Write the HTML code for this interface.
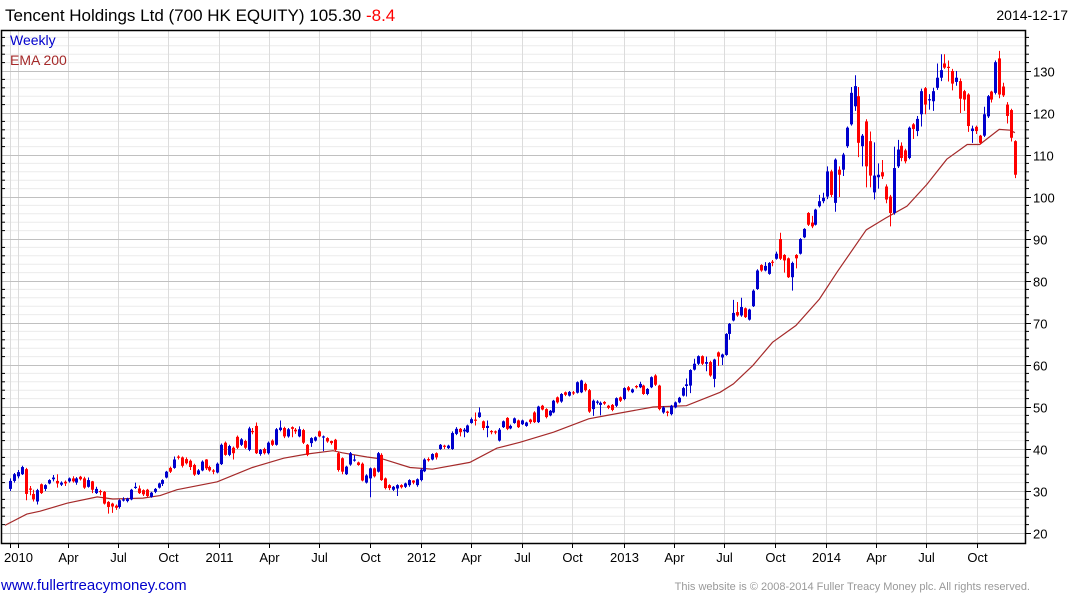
<!DOCTYPE html>
<html><head><meta charset="utf-8"><style>
html,body{margin:0;padding:0;background:#fff;}
svg{display:block;font-family:"Liberation Sans",sans-serif;}
</style></head><body>
<svg id="chart" width="1075" height="600" viewBox="0 0 1075 600">
<text x="5" y="21" font-size="17" fill="#000">Tencent Holdings Ltd (700 HK EQUITY) 105.30 <tspan fill="#ff0000">-8.4</tspan></text>
<text x="1068" y="20" font-size="14" text-anchor="end" fill="#000">2014-12-17</text>
<g id="grid"></g>
<g id="ema"></g>
<g id="candles"></g>
<g id="axes"></g>
<text x="10" y="45" font-size="14" fill="#0000cc">Weekly</text>
<text x="10" y="65" font-size="14" fill="#a52a2a">EMA 200</text>
<text x="1" y="590" font-size="15" fill="#0000cc">www.fullertreacymoney.com</text>
<text x="1030" y="590" font-size="11" text-anchor="end" fill="#999">This website is © 2008-2014 Fuller Treacy Money plc. All rights reserved.</text>
</svg>
<script>
const opens=[30.5,32.4,33.5,34,35.2,30.6,29.3,27.5,31.6,30.5,31.8,32.8,32.4,31.5,32.2,32.3,33,32,33.4,33,31,32.3,29.5,30,29.8,27.4,27,26.5,26.2,27.9,27.6,28,30.9,30.6,30.2,30.3,28.6,29.8,30.8,31.7,33.2,35.5,35.5,38.2,38,37.6,37.2,36.2,34,34.9,37.5,35.7,34.9,34.4,36.4,41.5,38.6,40.3,42.9,41,41.9,39.8,44.3,45.5,38.8,40,39,42,41,44.5,45,43,45.2,44.6,43,44.5,41,41.4,42,44.2,42.8,42.6,41.9,42.2,39,37.8,34,36.3,37.3,36.8,36.5,32,33,35.4,34.6,38.6,33,31.4,30.3,30.6,31.4,31,31.4,32.5,31.4,32.6,34.7,37.6,37.5,39,40,40.8,40.2,40,43.6,44.8,44.2,44,46.2,47,47.6,46.6,45,44.3,44.2,42,45.2,47.4,44.9,46.2,46.8,45.9,45.5,47,48.7,46.4,50.3,49.5,48,48.7,52.3,51.3,53.5,52.7,53.5,53.4,53.5,55.5,54,49.5,51,50.5,51.2,50.3,50.5,50.3,52.3,51.9,54.7,53.5,55,54.7,55.1,53.1,54.7,57.5,55.1,48.7,48.9,48.3,49.9,51.1,52.7,55,55.1,58.9,60.3,62.1,60.3,60.7,56.7,63,61.8,62.4,67.4,70.6,72.6,71.8,73.5,70.8,74,78.1,83.8,82.5,81.7,84.6,85.3,90,86.2,85.4,80.9,86.2,86.5,90.4,96.2,93.9,93.4,97.8,99,100.1,106.1,98.6,106.5,106.5,112.1,117.3,121.6,124,112.1,118,113.3,101.1,104.7,105.9,102.5,100.1,96.2,107.3,112.2,111.1,109.3,117.3,115.7,119.7,125.9,123,122.8,126,128.4,131.8,131,130,127.4,127.6,125.2,124.4,115.7,116.7,114.6,114.6,119.2,125.1,124.8,133,126.3,122,120.7,113.3];
const closes=[32.4,34,34.5,35.7,29.3,30.3,28,30.2,29.5,31.4,32.6,33.2,31.8,32,31.8,33,32.3,33,32.8,30.8,32.6,30.3,30.5,29.8,27,26.2,26.3,26,27.8,28,28.2,30.3,31,29.5,29.2,28.8,29.6,30.5,31.8,32.6,34.6,34.6,37.5,37.9,36,36.6,35.7,33.9,34.9,37,35.4,34.9,34.6,36.5,41,38.6,40.7,39,40.3,42.3,40.3,44.9,44,39,39.8,39,41.5,41,44.7,45.1,43,44.7,44.8,44.2,44.7,41.5,38.6,42.6,42.8,43,43,41.8,41.4,39.8,35,34.6,35.8,39,37.5,36.2,32.5,33.7,35.4,33.5,39,32.6,30.7,30.7,31,31.4,30.9,31.8,32.6,32,32.8,35.1,37.5,37.3,38.8,38,41,40.5,40.8,43.8,44.8,44,44.6,45.6,47.1,46.8,48.7,45,45.5,44,43.9,44.6,46.6,44.8,45.5,47.3,45.2,46.8,46.3,46.4,46.4,50.1,49.4,47.6,49.1,51.5,51.1,53.1,52.9,53.6,53.3,55.9,56.3,54,48.9,51.5,51.3,51,50.8,49.8,49.3,52.1,51.5,54.5,54,54.2,54.7,55.5,53.1,54.3,57.1,55.3,49.5,49.9,48.6,50.3,51.1,52.2,54.5,55.4,58.8,60.3,62.1,60.3,60.7,57.5,61.3,62,62.5,67.4,69.8,72.4,71.8,73.8,71.4,73.2,77.7,82.5,82.5,83.6,84.3,84.4,86.5,85.3,84.9,80.9,84.3,85.4,90,92.4,93.4,93,97,99,99.8,106.1,100.5,108.9,105.3,110.1,116.5,124.8,126.4,112.9,114.6,107.3,105.1,105.1,105.3,104.9,99.4,96.2,106.9,111.3,109.3,108.5,116.5,116.2,118.6,125.2,122,123.3,125.2,128.4,130.2,130.8,130.9,127,128.4,123.4,123.2,116.9,116.3,115.7,112.9,119.7,124,123.2,132.1,124.4,124.2,119.3,114.1,105.3];
const highs=[33,34.3,35,36,35.5,31.2,30.3,30.5,31.8,31.6,32.8,33.8,34,32.3,32.5,33.2,33.5,33.3,33.6,33.4,33.2,32.4,31,30.3,30,27.6,27.2,26.8,28,28.5,28.4,30.5,32,31.3,30.4,30.5,29.8,30.7,32,32.8,34.8,35.8,38.2,38.5,38.2,38,37.5,36.5,35.2,37.3,37.6,36,35.2,36.8,41.3,41.8,41,40.6,43.2,42.6,42.2,45.3,45,46.3,40,40.3,41.8,42.3,45,46.8,45.3,45,45.4,45,45.4,44.8,41.2,42.8,43,44.4,43.2,42.8,42,42.4,39.4,38,36,39.3,38.5,37,36.8,34,35.6,35.6,39.3,39,33.2,31.6,31.2,31.6,31.6,32,32.8,32.6,33,35.4,37.8,38,39,39.2,41.2,41,41,44.2,45.2,45,45,45.8,47.5,48.7,49.9,46.8,46.8,44.5,44.4,45,46.8,47.6,45.8,47.5,47,47,46.5,47.2,49,50.3,50.5,49.7,49.3,51.7,52.5,53.3,53.7,53.8,53.8,56.1,56.5,55.8,54.3,51.8,51.6,51.3,51.4,50.5,50.7,52.3,52.5,54.7,55,54.4,55.2,56,55.3,54.5,57.3,57.8,55.3,50.2,49.1,50.5,51.3,52.4,54.8,56.8,59,61.5,62.3,62.3,62,61,61.5,63.2,62.7,67.6,70,75.5,75,76,73.7,73.4,78,82.8,84,84.5,84.5,85,87,91.5,86.4,85.6,84.6,86.4,90.2,92.6,96.4,95.5,97.2,100.5,101,107.3,106.5,109.2,107.3,110.5,116.8,126.2,129,126.2,115,118.5,115.6,113,108,108.8,103,100.5,112,113.6,113,111.5,116.8,117.6,119.3,125.8,126.2,124.5,126,131.8,134,134,132.5,130.5,130,128.2,125.5,124.7,117,117,114.8,121.5,124.3,125.3,132.5,134.8,127.2,122.6,121,113.5];
const lows=[30,32,33,33.8,27.8,29,27.5,26.8,29.3,30,31.6,32.3,30.8,31.2,31.2,32,32,31.5,32.5,30.5,30.8,29.5,29.3,29,26.8,24.6,24.8,25.5,25.8,27.5,27.3,27.8,30.5,29.3,28.8,28.5,28.4,29.5,30.6,31.2,33,34.3,35.3,37.5,35.6,36.3,35,33.6,33.8,34.7,35,34.6,34,34.2,36.2,38.4,38.3,37.5,40,40.7,40,39.5,43.5,38.8,38.4,38.7,38.7,40.7,40.8,44.2,42.6,42.7,42.8,43.6,42.8,41.2,38.3,40.5,41.8,42.8,39.5,41.5,41,39.5,34.6,34,33.8,36,37,36,32.3,31.8,28.5,33.2,34.4,32.4,30.4,30.2,30,28.8,30.6,30.7,31,31.6,31,32.3,34.5,37,37.3,37.5,39.8,40,40,39.8,43.3,43,42.8,43.8,46,45.6,47.4,44.5,42.8,43.5,43.5,41.8,45,44.5,44.7,46,45,45.7,45.3,46,46.2,46.2,49.2,47.3,47.8,48.5,50.8,51,52.6,52.5,52.9,53.2,53.3,53.7,48.6,47.9,50.6,48,50.5,49.5,49,50,51.2,51.6,53.7,53.3,54.4,54.5,52.9,52.8,54.5,55,49.2,48.4,47.8,48,49.7,50.9,52.5,52.5,53.3,58.7,60,60,58.5,57.2,54.7,59.8,60,62.2,66,70.4,71.5,71.5,71.2,70.6,73.8,77.9,82.2,82.3,81.5,83.5,85.1,85,82,80.7,77.7,83,86.3,90.2,93.1,92.6,93.2,97.5,98.5,99.5,100,96.5,100,105,111.7,117,120.5,109.5,107.3,102.3,102.3,99.4,102,104.3,98.5,93,95.8,106.9,108.5,108,109,113.8,114.5,116.8,119.7,120.8,120.5,125.5,127.6,130.5,127.5,125.4,126.5,120,120.5,115.5,112.9,115,112.5,114.3,118.8,122.5,124.4,123.5,123.8,117.5,113.2,104.5];
const emaWeeks=[-1.3,4.3,7.7,14.6,22.3,26.3,34,38.4,42.7,53,62,70,76,82.6,85,91.3,95.4,102.3,108,117.6,124.5,130.4,139,148,152.7,164.5,173,181.6,185,190,195,201,207,211.5,219,224,229.4,234.5,239.6,244.8,248,253,255.8,257];
const emaValues=[21.8,24.5,25.2,27.1,28.6,28.1,28.3,28.9,30.3,32.2,35.6,37.8,38.8,39.6,39.1,38.1,37.6,35.6,35.2,36.8,40.2,41.6,44,47.2,48,50,50.3,53.5,55.5,59.9,65.4,69.4,75.7,82.1,92.2,95,97.8,103,109,112.5,112.5,116.1,115.9,115.3];
const yTickValues=[20,30,40,50,60,70,80,90,100,110,120,130];
const xTickLabels=["2010","Apr","Jul","Oct","2011","Apr","Jul","Oct","2012","Apr","Jul","Oct","2013","Apr","Jul","Oct","2014","Apr","Jul","Oct"];
const xTickWeeks=[2.05,14.83,27.62,40.41,53.45,66.24,79.03,92.07,105.12,117.9,130.95,143.73,157.03,169.82,182.61,195.65,208.7,221.48,234.27,247.3];

const NS="http://www.w3.org/2000/svg";
const L=1,R=1025,T=30,B=543;
function xScale(w){return 10+w*3.91;}
function yScale(v){return 533-(v-20)*4.2;}
function mk(tag,attrs,parent){const e=document.createElementNS(NS,tag);for(const k in attrs)e.setAttribute(k,attrs[k]);parent.appendChild(e);return e;}
const grid=document.getElementById('grid'),axes=document.getElementById('axes'),cg=document.getElementById('candles'),eg=document.getElementById('ema');
// minor horizontal lines
for(let v=20;v<=138;v+=2){
  if(v%10===0)continue;
  const y=yScale(v); if(y<T)continue;
  const ln=mk('line',{x1:L,x2:R,y1:y,y2:y,stroke:'#ebebeb','stroke-width':1},grid);
  
  
  const tk=mk('line',{x1:R,x2:R+4,y1:y,y2:y,stroke:'#000','stroke-width':1},axes);
  
  
  const tl=mk('line',{x1:L,x2:L+4,y1:y,y2:y,stroke:'#000','stroke-width':1},axes);
  
  
}
xTickWeeks.forEach((w,i)=>{
  const x=Math.round(xScale(w))+0.5;
  const ln=mk('line',{x1:x,x2:x,y1:T,y2:B,stroke:'#dcdcdc','stroke-width':1},grid);
  
  
  const tk=mk('line',{x1:x,x2:x,y1:B,y2:B+5,stroke:'#000','stroke-width':1},axes);
  
  
  const t=mk('text',{x:x,y:562,'font-size':13,'text-anchor':'middle',fill:'#000'},axes);
  t.textContent=xTickLabels[i];
  
  
});
{const x=10.5;const ln=mk('line',{x1:x,x2:x,y1:T,y2:B,stroke:'#dcdcdc','stroke-width':1},grid);


const tk=mk('line',{x1:x,x2:x,y1:B,y2:B+5,stroke:'#000'},axes);

}
yTickValues.forEach(v=>{
  const y=Math.round(yScale(v))+0.5;
  const ln=mk('line',{x1:L,x2:R,y1:y,y2:y,stroke:'#c0c0c0','stroke-width':1},grid);
  
  
  const tk=mk('line',{x1:R,x2:R+6,y1:y,y2:y,stroke:'#000'},axes);
  
  
  const t=mk('text',{x:1033,y:y+5,'font-size':13,fill:'#000'},axes);
  t.textContent=String(v);
  
  
});
// frame
const fr=mk('path',{d:`M${L+0.5} ${T+0.5} H${R+0.5} V${B+0.5} H${L+0.5} Z`,fill:'none',stroke:'#000','stroke-width':1.5},axes);


// EMA
let d='';
emaWeeks.forEach((w,i)=>{d+=(i?'L':'M')+xScale(w).toFixed(1)+' '+yScale(emaValues[i]).toFixed(1);});
const ep=mk('path',{d:d,fill:'none',stroke:'#a52a2a','stroke-width':1.2},eg);


// candles
closes.forEach((c,i)=>{
  const o=opens[i],x=xScale(i),up=c>=o,col=up?'#0000cc':'#ff0000';
  const g=mk('g',{},cg);
  
  
  const xw=Math.round(x)+0.5;
  mk('line',{x1:xw,x2:xw,y1:yScale(highs[i]),y2:yScale(lows[i]),stroke:col,'stroke-width':1},g);
  const top=yScale(Math.max(o,c)),bot=yScale(Math.min(o,c));
  mk('rect',{x:Math.round(x)-1,y:top,width:3,height:Math.max(1.2,bot-top),fill:col},g);
});
</script>
</body></html>
